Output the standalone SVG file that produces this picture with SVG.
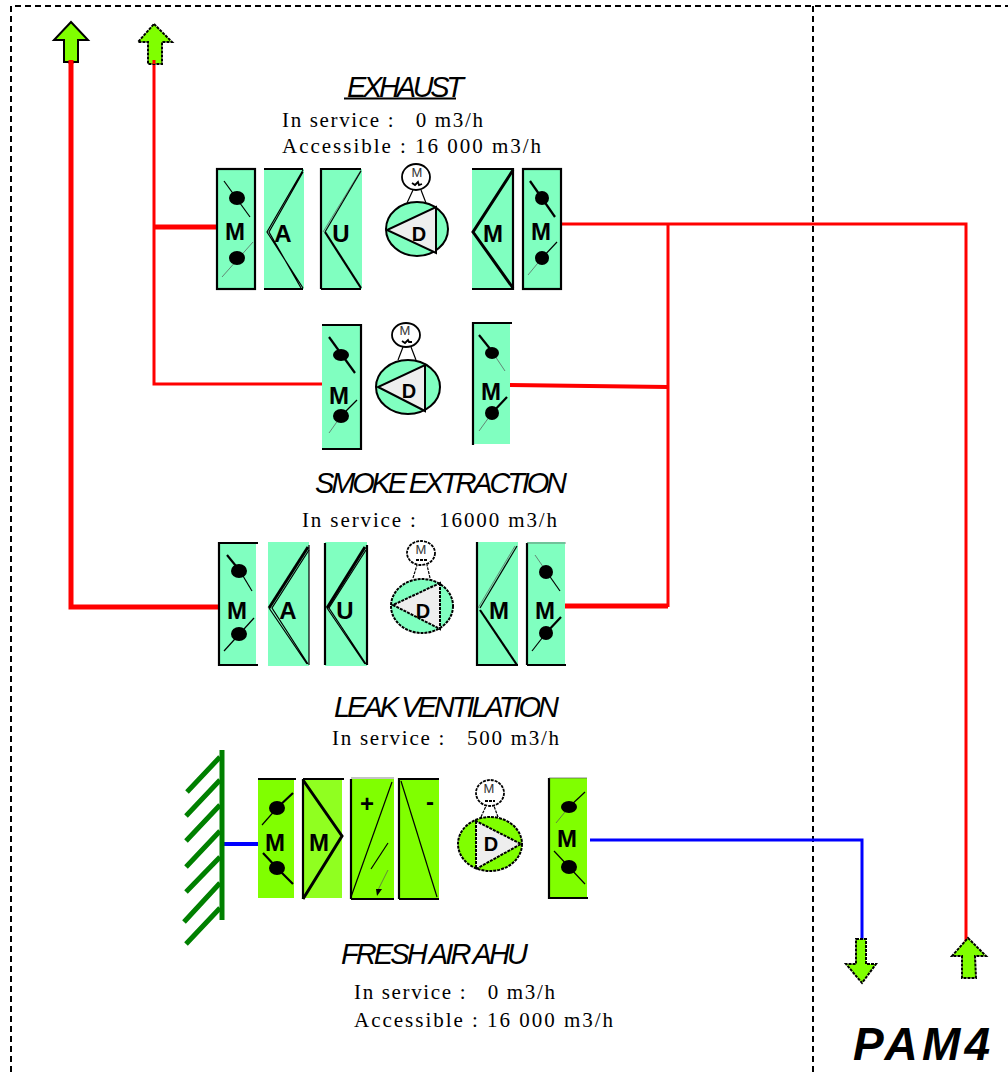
<svg xmlns="http://www.w3.org/2000/svg" width="1008" height="1072" viewBox="0 0 1008 1072">
<style>
.t{fill:#80ffc0;stroke:none}
.g{fill:#80ff00;stroke:none}
.g2{fill:#90ff20;stroke:none}
.b{fill:none;stroke:#000;stroke-width:2.2}
.b3{fill:none;stroke:#000;stroke-width:3}
.thin{fill:none;stroke:#000;stroke-width:1.2}
.hair{fill:none;stroke:#555;stroke-width:.7}
.blob{fill:#000;stroke:none}
.red{fill:none;stroke:#f00}
.blue{fill:none;stroke:#00f;stroke-width:3}
.frame{fill:none;stroke:#000;stroke-width:2;stroke-dasharray:6 4}
.arrow{fill:#80ff00;stroke:#000;stroke-width:2}
.dash{stroke-dasharray:3 1}
.fan{stroke:#000;stroke-width:2}
.tri{fill:#eee;stroke:#000;stroke-width:2}
.mot{fill:#fff;stroke:#000;stroke-width:1.8}
.sq{fill:none;stroke:#000;stroke-width:1.8}
.wall{fill:none;stroke:#008000;stroke-width:5}
.l{font-family:"Liberation Sans",Arial,sans-serif;font-weight:700;font-size:24px;fill:#000;text-anchor:middle}
.d{font-size:20px}
.mm{font-family:"Liberation Sans",Arial,sans-serif;font-size:13px;fill:#333;text-anchor:middle}
.h{font-family:"Liberation Sans",Arial,sans-serif;font-style:italic;font-size:29px;fill:#000}
.s{font-family:"Liberation Serif","Times New Roman",serif;font-size:21px;fill:#000}
.pam{font-family:"Liberation Sans",Arial,sans-serif;font-style:italic;font-weight:700;font-size:46px;fill:#000}
</style>
<g id="frame">
<path class="frame" d="M11 1072V6H1008"/>
<path class="frame" d="M813 6V1072"/>
</g>
<g id="connectors">
<path class="red" stroke-width="5" d="M71 60V607H219"/>
<path class="red" stroke-width="3" d="M154 60V384H322"/>
<path class="red" stroke-width="5" d="M154 227H217"/>
<path class="red" stroke-width="3" d="M561 224H966V942"/>
<path class="red" stroke-width="3" d="M668 224V607"/>
<path class="red" stroke-width="4" d="M510 385L668 387"/>
<path class="red" stroke-width="5" d="M565 606H668"/>
<path class="blue" style="stroke-width:4" d="M222 844H258"/>
<path class="blue" d="M590 840H862V941"/>
</g>
<g id="arrow-1"><path class="arrow" d="M71 22L88 40H78V62H64V40H54Z"/><path class="red" stroke-width="5" d="M71 60V64"/></g>
<g id="arrow-2"><path class="arrow dash" d="M154 24L172 42H162V64H148V42H138Z"/><path class="red" stroke-width="3" d="M154 60V64"/></g>
<g id="arrow-3"><path class="arrow dash" d="M856 939H866V964H876L862 983L846 964H856Z"/></g>
<g id="arrow-4"><path class="arrow dash" d="M968 938L986 956H975L976 978H962V956H952Z"/></g>

<g id="exhaust-title">
<text class="h" x="347" y="97" textLength="117" lengthAdjust="spacing">EXHAUST</text>
<path class="b" d="M344 98.5H456"/>
<text class="s" x="282" y="127" textLength="201" lengthAdjust="spacing" xml:space="preserve">In service :   0 m3/h</text>
<text class="s" x="282" y="153" textLength="259" lengthAdjust="spacing" xml:space="preserve">Accessible : 16 000 m3/h</text>
</g>
<g id="ex-m1">
<rect class="t" x="217" y="169" width="38" height="120"/><rect class="b" x="217" y="169" width="38" height="120"/>
<path class="thin" d="M224 181L250 217"/><ellipse class="blob" cx="237" cy="198" rx="8" ry="7"/>
<path class="hair" d="M222 277L253 242"/><ellipse class="blob" cx="237" cy="258" rx="8" ry="7"/>
<text class="l" x="235" y="240">M</text>
</g>
<g id="ex-a">
<rect class="t" x="264" y="169" width="40" height="120"/>
<path class="b" d="M264 169H303M264 289H303"/>
<path class="thin" d="M303 170L267 232L303 288M303 172L269 232L301 288"/>
<text class="l" x="283" y="242">A</text>
</g>
<g id="ex-u">
<rect class="t" x="321" y="169" width="41" height="120"/>
<path class="b" d="M321 289V169H361M321 289H361"/>
<path class="hair" d="M361 170L323 232"/><path class="thin" d="M361 171L325 232"/><path class="b" d="M325 232L361 288"/>
<text class="l" x="341" y="242">U</text>
</g>
<g id="ex-d">
<path class="thin" d="M407 203L413 190M426 203L421 190"/>
<ellipse class="mot" cx="416" cy="177" rx="14" ry="13"/>
<text class="mm" x="417" y="177">M</text><path class="sq" d="M412 183L415 185L418 182L419 185L422 184"/>
<ellipse class="t fan" cx="417" cy="229" rx="31" ry="27"/>
<path class="tri" d="M436 207V253L387 230Z"/>
<text class="l d" x="419" y="241">D</text>
</g>
<g id="ex-m2">
<rect class="t" x="472" y="169" width="41" height="120"/>
<path class="b" d="M472 169H513V289H472"/>
<path class="b3" d="M513 170L473 232L513 288"/>
<text class="l" x="493" y="242">M</text>
</g>
<g id="ex-m3">
<rect class="t" x="523" y="169" width="38" height="120"/><rect class="b" x="523" y="169" width="38" height="120"/>
<path class="b" d="M530 181L555 217"/><ellipse class="blob" cx="542" cy="198" rx="7" ry="7"/>
<path class="thin" d="M557 242L542 258"/><path class="hair" d="M542 258L528 275"/><ellipse class="blob" cx="542" cy="258" rx="7" ry="7"/>
<text class="l" x="541" y="240">M</text>
</g>

<g id="sm-m1">
<rect class="t" x="322" y="325" width="39" height="124"/>
<path class="b" d="M322 325H361V449H322"/>
<path class="b" d="M329 337L355 373"/><ellipse class="blob" cx="341" cy="355" rx="8" ry="6"/>
<path class="thin" d="M357 400L341 416"/><path class="hair" d="M341 416L329 433"/><ellipse class="blob" cx="341" cy="416" rx="8" ry="7"/>
<text class="l" x="339" y="404">M</text>
</g>
<g id="sm-d">
<path class="thin" d="M398 360L403 347M416 360L411 347"/>
<ellipse class="mot" cx="406" cy="335" rx="14" ry="12"/>
<text class="mm" x="405" y="335">M</text><path class="sq" d="M402 341L405 343L408 340L409 342L412 342"/>
<ellipse class="t fan" cx="408" cy="387" rx="32" ry="27"/>
<path class="tri" d="M425 365V411L378 387Z"/>
<text class="l d" x="409" y="398">D</text>
</g>
<g id="sm-m2">
<rect class="t" x="473" y="323" width="37" height="121"/>
<path class="b" d="M473 445V323H512"/>
<path class="b" d="M479 335L491 350"/><path class="hair" d="M491 350L505 371"/><ellipse class="blob" cx="492" cy="353" rx="7" ry="6"/>
<path class="b" d="M507 397L492 413"/><path class="hair" d="M492 413L479 431"/><ellipse class="blob" cx="492" cy="413" rx="7" ry="7"/>
<text class="l" x="491" y="400">M</text>
</g>

<g id="smoke-title">
<text class="h" x="315" y="493" textLength="252" lengthAdjust="spacing">SMOKE EXTRACTION</text>
<text class="s" x="302" y="527" textLength="255" lengthAdjust="spacing" xml:space="preserve">In service :   16000 m3/h</text>
</g>
<g id="sx-m1">
<rect class="t" x="219" y="543" width="37" height="122"/>
<path class="b" d="M258 543H219V665H258"/>
<path class="b" d="M227 555L240 571"/><path class="thin" d="M240 571L252 591"/><ellipse class="blob" cx="239" cy="571" rx="8" ry="7"/>
<path class="thin" d="M254 618L224 651"/><ellipse class="blob" cx="239" cy="634" rx="8" ry="7"/>
<text class="l" x="237" y="619">M</text>
</g>
<g id="sx-a">
<rect class="t" x="268" y="542" width="41" height="124"/>
<path class="thin" d="M309 545V665"/>
<path class="b3" d="M308 547L269 608"/><path class="thin" d="M309 550L272 608L308 664M307 664L269 608"/>
<text class="l" x="288" y="619">A</text>
</g>
<g id="sx-u">
<rect class="t" x="325" y="542" width="42" height="124"/>
<path class="b" d="M325 665V543M367 545V665"/><path class="b3" d="M365 547L327 608"/><path class="thin" d="M366 550L329 608L366 664M365 664L327 608"/>
<text class="l" x="345" y="619">U</text>
</g>
<g id="sx-d">
<path class="thin dash" d="M413 578L417 565M430 578L427 565"/>
<ellipse class="mot dash" cx="421" cy="553" rx="14" ry="12"/>
<text class="mm" x="421" y="554">M</text><path class="sq dash" d="M416 560H427"/>
<ellipse class="t fan dash" cx="422" cy="606" rx="31" ry="27"/>
<path class="tri dash" d="M440 583V629L393 605Z"/>
<text class="l d" x="423" y="618">D</text>
</g>
<g id="sx-m2">
<rect class="t" x="477" y="542" width="41" height="124"/>
<path class="b" d="M477 542V665H518"/>
<path class="thin" d="M517 546L480 608"/><path class="hair" d="M515 546L478 608"/><path class="b" d="M480 610L517 665"/>
<text class="l" x="499" y="619">M</text>
</g>
<g id="sx-m3">
<rect class="t" x="527" y="542" width="38" height="124"/>
<path class="b" d="M527 665V543M527 665H566"/><path class="hair" d="M527 543H566"/>
<path class="hair" d="M535 555L546 571"/><path class="thin" d="M546 571L560 591"/><ellipse class="blob" cx="546" cy="572" rx="7" ry="7"/>
<path class="b" d="M561 617L546 633"/><path class="thin" d="M546 633L532 651"/><ellipse class="blob" cx="546" cy="633" rx="7" ry="7"/>
<text class="l" x="545" y="619">M</text>
</g>

<g id="leak-title">
<text class="h" x="334" y="717" textLength="225" lengthAdjust="spacing">LEAK VENTILATION</text>
<text class="s" x="332" y="745" textLength="227" lengthAdjust="spacing" xml:space="preserve">In service :   500 m3/h</text>
</g>

<g id="wall">
<path class="wall" d="M222 750V920"/>
<path class="wall" d="M220 757L187 792M220 780L186 816M220 805L186 841M220 831L186 867M220 857L186 892M220 883L184 922M220 908L186 944"/>
</g>
<g id="fa-m1">
<rect class="g" x="258" y="779" width="36" height="119"/>
<path class="b" d="M258 779H296"/>
<path class="b" d="M293 793L277 808"/><path class="thin" d="M277 808L262 825"/><ellipse class="blob" cx="277" cy="808" rx="8" ry="7"/>
<path class="b" d="M263 853L277 868L293 884"/><ellipse class="blob" cx="277" cy="868" rx="8" ry="7"/>
<text class="l" x="275" y="851">M</text>
</g>
<g id="fa-m2">
<rect class="g2" x="303" y="780" width="39" height="118"/>
<path class="b" d="M303 779H344M303 899V779"/>
<path class="b3" d="M303 780L342 836L303 899"/>
<text class="l" x="319" y="851">M</text>
</g>
<g id="fa-h">
<rect class="g" x="351" y="779" width="43" height="120"/>
<path class="b" d="M351 899V779M351 899H394"/><path class="hair" d="M351 778H394"/>
<path class="thin" d="M351 897L392 782"/>
<path class="thin" d="M371 869L388 843"/><path class="hair" d="M388 870L377 892"/>
<path fill="#000" d="M376 889L382 889L377 896Z"/>
<text class="l" x="367" y="812">+</text>
</g>
<g id="fa-c">
<rect class="g" x="399" y="779" width="40" height="120"/>
<path class="b" d="M399 899V779H439M399 899H439"/>
<path class="thin" d="M401 781L437 897"/>
<text class="l" x="430" y="810">-</text>
</g>
<g id="fa-d">
<path class="thin dash" d="M481 817L486 806M498 817L494 806"/>
<ellipse class="mot dash" cx="490" cy="793" rx="14" ry="13"/>
<text class="mm" x="489" y="793">M</text><path class="sq dash" d="M485 801H495"/>
<ellipse class="g fan dash" cx="490" cy="844" rx="32" ry="27"/>
<path class="tri dash" d="M476 821V869L521 844Z"/>
<text class="l d" x="491" y="851">D</text>
</g>
<g id="fa-m3">
<rect class="g" x="549" y="778" width="38" height="120"/>
<path class="b" d="M549 778V898H588"/><path class="hair" d="M549 778H587"/>
<path class="thin" d="M585 792L569 807"/><path class="hair" d="M569 807L556 823"/><ellipse class="blob" cx="569" cy="807" rx="8" ry="6"/>
<path class="thin" d="M554 851L585 884"/><ellipse class="blob" cx="569" cy="867" rx="8" ry="7"/>
<text class="l" x="567" y="847">M</text>
</g>
<g id="fresh-title">
<text class="h" x="341" y="964" textLength="187" lengthAdjust="spacing">FRESH AIR AHU</text>
<text class="s" x="354" y="999" textLength="201" lengthAdjust="spacing" xml:space="preserve">In service :   0 m3/h</text>
<text class="s" x="354" y="1027" textLength="259" lengthAdjust="spacing" xml:space="preserve">Accessible : 16 000 m3/h</text>
</g>
<g id="pam"><text class="pam" x="853" y="1060" textLength="137" lengthAdjust="spacing">PAM4</text></g>
</svg>
